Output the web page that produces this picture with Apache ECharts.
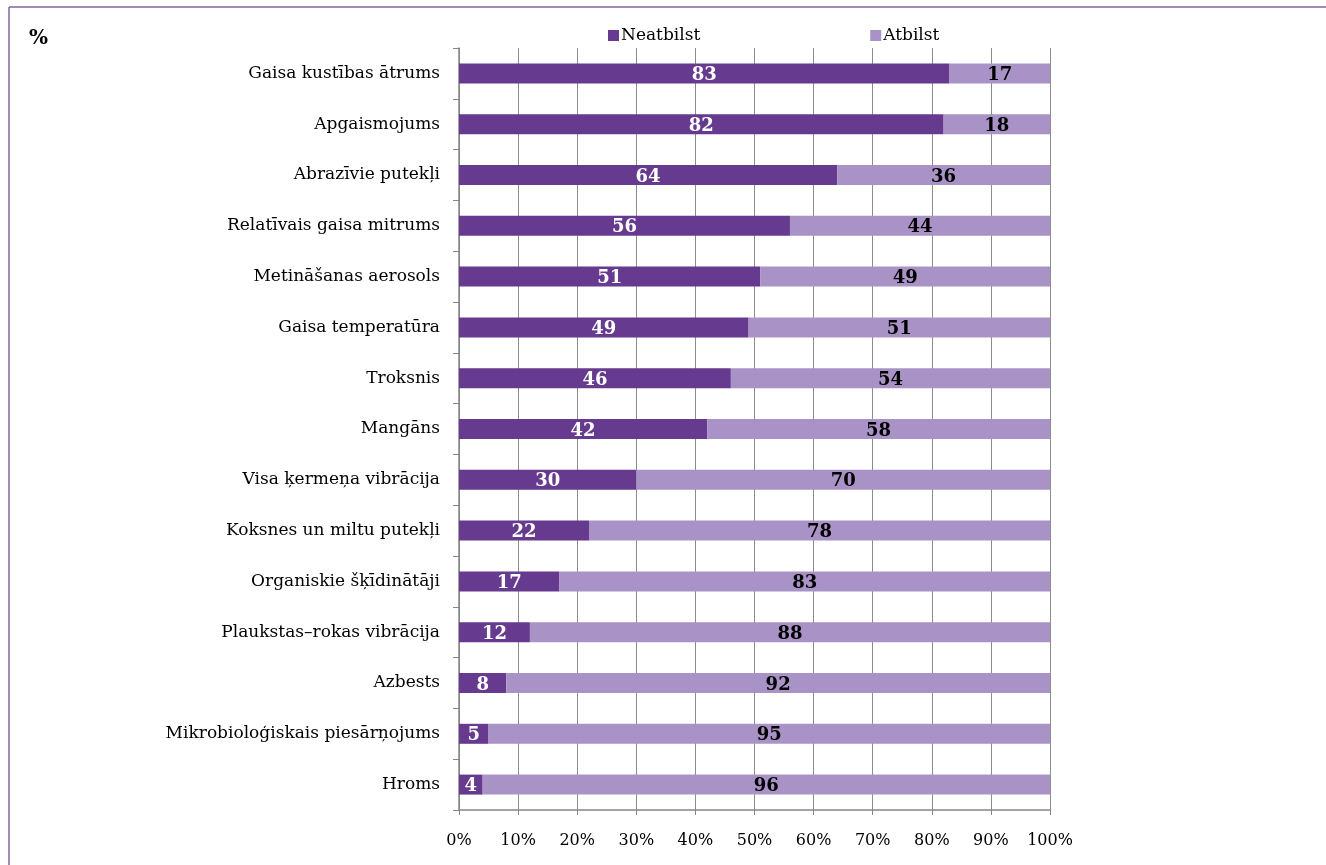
<!DOCTYPE html>
<html>
<head>
<meta charset="utf-8">
<script src="https://cdn.jsdelivr.net/npm/echarts@6/dist/echarts.min.js"></script>
<style>
html,body{margin:0;padding:0;background:#fff;}
#chart{width:1326px;height:865px;}
</style>
</head>
<body>
<div id="chart"></div>
<script>
// Workplace factors, share of measurements (%)
const categories = [
  'Gaisa kustības ātrums',
  'Apgaismojums',
  'Abrazīvie putekļi',
  'Relatīvais gaisa mitrums',
  'Metināšanas aerosols',
  'Gaisa temperatūra',
  'Troksnis',
  'Mangāns',
  'Visa ķermeņa vibrācija',
  'Koksnes un miltu putekļi',
  'Organiskie šķīdinātāji',
  'Plaukstas–rokas vibrācija',
  'Azbests',
  'Mikrobioloģiskais piesārņojums',
  'Hroms'
];
const neatbilst = [83, 82, 64, 56, 51, 49, 46, 42, 30, 22, 17, 12, 8, 5, 4];
const atbilst = [17, 18, 36, 44, 49, 51, 54, 58, 70, 78, 83, 88, 92, 95, 96];
const seriesNames = ['Neatbilst', 'Atbilst'];
const xTicks = [0, 10, 20, 30, 40, 50, 60, 70, 80, 90, 100];

const FONT = '"DejaVu Serif", serif';
const DARK = '#663a8f';
const LIGHT = '#a993c6';

const chart = echarts.init(document.getElementById('chart'));
chart.setOption({
  animation: false,
  textStyle: { fontFamily: FONT },
  graphic: [
    { type: 'line', shape: { x1: 9, y1: 7, x2: 1326, y2: 7 }, style: { stroke: '#8064a2', lineWidth: 1.5 } },
    { type: 'line', shape: { x1: 9, y1: 7, x2: 9, y2: 865 }, style: { stroke: '#8064a2', lineWidth: 1.5 } },
    { type: 'text', left: 29, top: 29, style: { text: '%', font: 'bold 20px ' + FONT, fill: '#000' } }
  ],
  legend: {
    data: seriesNames,
    top: 22,
    left: 603,
    itemWidth: 11,
    itemHeight: 11,
    itemGap: 170,
    icon: 'rect',
    textStyle: { fontFamily: FONT, fontSize: 17, color: '#000', padding: [0, 0, 0, -3] }
  },
  grid: { left: 459, right: 276, top: 48, bottom: 55, containLabel: false },
  xAxis: {
    type: 'value',
    min: 0,
    max: 100,
    interval: 10,
    axisLine: { show: true, lineStyle: { color: '#868686', width: 1.5 } },
    axisTick: { show: true, length: 5, lineStyle: { color: '#868686' } },
    splitLine: { show: true, lineStyle: { color: '#8c8c8c', width: 1 } },
    axisLabel: {
      margin: 23,
      color: '#000',
      fontSize: 16,
      fontFamily: FONT,
      formatter: v => xTicks.includes(v) ? v + '%' : ''
    }
  },
  yAxis: {
    type: 'category',
    data: categories,
    inverse: true,
    axisLine: { show: true, lineStyle: { color: '#868686', width: 1.5 } },
    axisTick: { show: true, length: 6, lineStyle: { color: '#868686' } },
    axisLabel: { margin: 19, color: '#000', fontSize: 17, fontFamily: FONT }
  },
  series: [
    {
      name: seriesNames[0],
      type: 'bar',
      stack: 'total',
      data: neatbilst,
      barWidth: 20,
      itemStyle: { color: DARK },
      label: {
        show: true,
        position: 'inside',
        color: '#fff',
        fontWeight: 'bold',
        fontSize: 18,
        fontFamily: FONT,
        offset: [0, 2]
      }
    },
    {
      name: seriesNames[1],
      type: 'bar',
      stack: 'total',
      data: atbilst,
      barWidth: 20,
      itemStyle: { color: LIGHT },
      label: {
        show: true,
        position: 'inside',
        color: '#000',
        fontWeight: 'bold',
        fontSize: 18,
        fontFamily: FONT,
        offset: [0, 2]
      }
    }
  ]
});
</script>
</body>
</html>
